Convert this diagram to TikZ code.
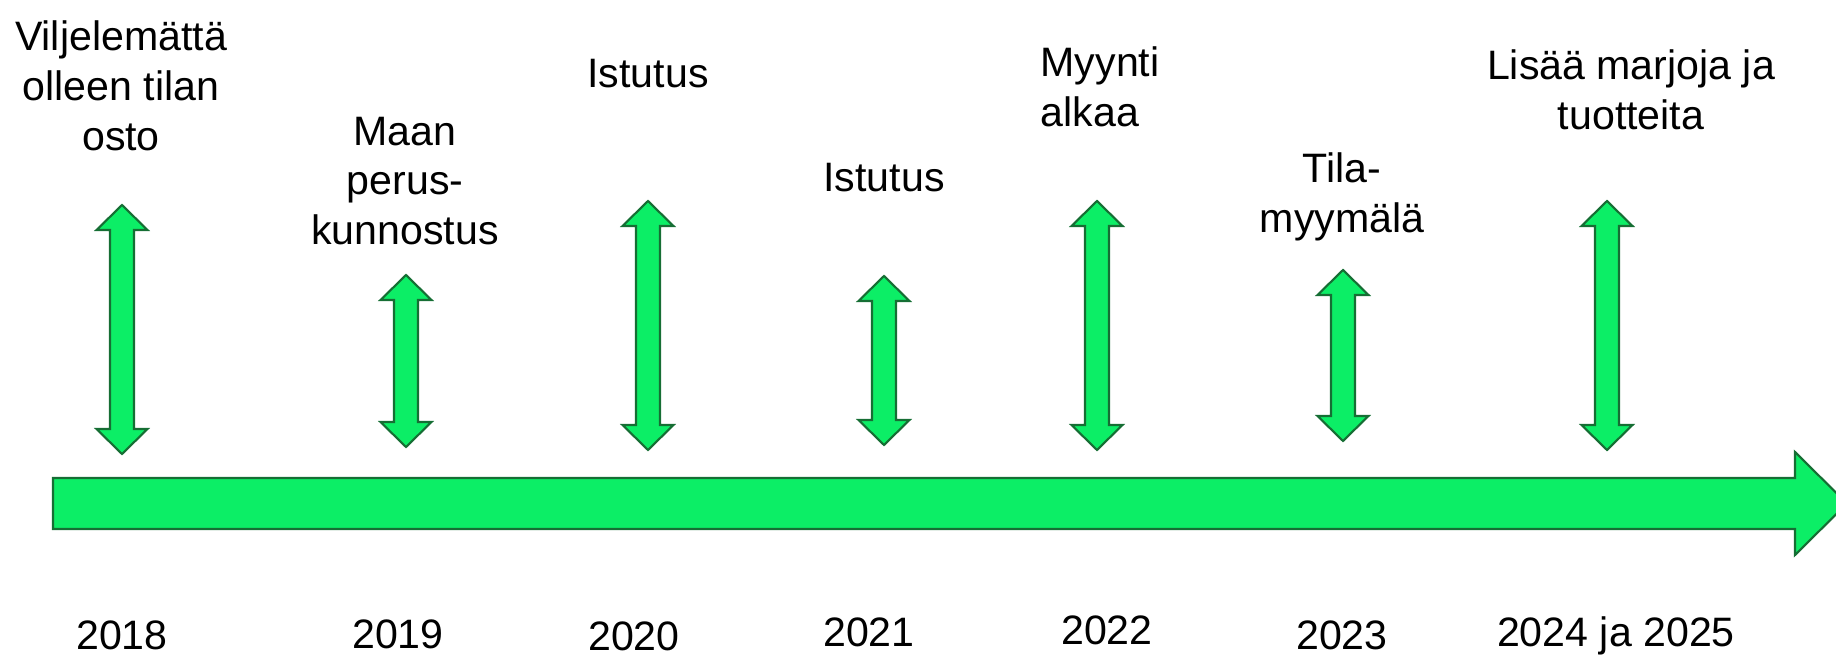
\documentclass[tikz,border=0pt]{standalone}
\usepackage{fontspec}
\setmainfont{Liberation Sans}
\usepackage{tikz}
\definecolor{arrowgreen}{RGB}{12,238,102}
\definecolor{edgegreen}{RGB}{22,110,52}
\tikzstyle{event} = [align=center, font=\fontsize{11.7}{14.2}\selectfont, text=black]
\tikzstyle{yeartext} = [font=\fontsize{11.7}{14.2}\selectfont, text=black]
\tikzstyle{arrowshape} = [fill=arrowgreen, draw=edgegreen, line width=0.6pt, line join=miter]

\begin{document}
\begin{tikzpicture}[x=0.1mm, y=-0.1mm]
        \useasboundingbox (0,0) rectangle (1836,655);
        \clip (0,0) rectangle (1836,655);
        % timeline
        \draw[arrowshape] (53,478) -- (1795,478) -- (1795,452) -- (1847,503.5) -- (1795,555) -- (1795,529) -- (53,529) -- cycle;
        % double arrows
        \foreach \x/\t/\b in {122/205/454, 406/275/447, 648/201/450, 884/276/445, 1097/201/450, 1343/270/441, 1607/201/450}
            \draw[arrowshape] (\x,\t) -- ({\x+25.5},{\t+25}) -- ({\x+12},{\t+25}) -- ({\x+12},{\b-25}) -- ({\x+25.5},{\b-25}) -- (\x,\b) -- ({\x-25.5},{\b-25}) -- ({\x-12},{\b-25}) -- ({\x-12},{\t+25}) -- ({\x-25.5},{\t+25}) -- cycle;

        \node[event] (osto) at (121,86) {Viljelemättä\\olleen tilan\\osto};
        \node[event] (kunnostus) at (405,181) {Maan\\perus-\\kunnostus};
        \node[event] (istutus1) at (648,74) {Istutus};
        \node[event] (istutus2) at (884,178) {Istutus};
        \node[event, align=left, anchor=west, inner sep=0pt] (myynti) at (1040,87) {Myynti\\alkaa};
        \node[event] (myymala) at (1342,197) {Tila-\\myymälä};
        \node[event] (lisaa) at (1631,90) {Lisää marjoja ja\\tuotteita};

        \node[yeartext] (y2018) at (122,635) {2018};
        \node[yeartext] (y2019) at (398,634) {2019};
        \node[yeartext] (y2020) at (634,636) {2020};
        \node[yeartext] (y2021) at (869,632) {2021};
        \node[yeartext] (y2022) at (1107,630) {2022};
        \node[yeartext] (y2023) at (1342,635) {2023};
        \node[yeartext] (y2024) at (1616,636) {2024 ja 2025};
\end{tikzpicture}
\end{document}
